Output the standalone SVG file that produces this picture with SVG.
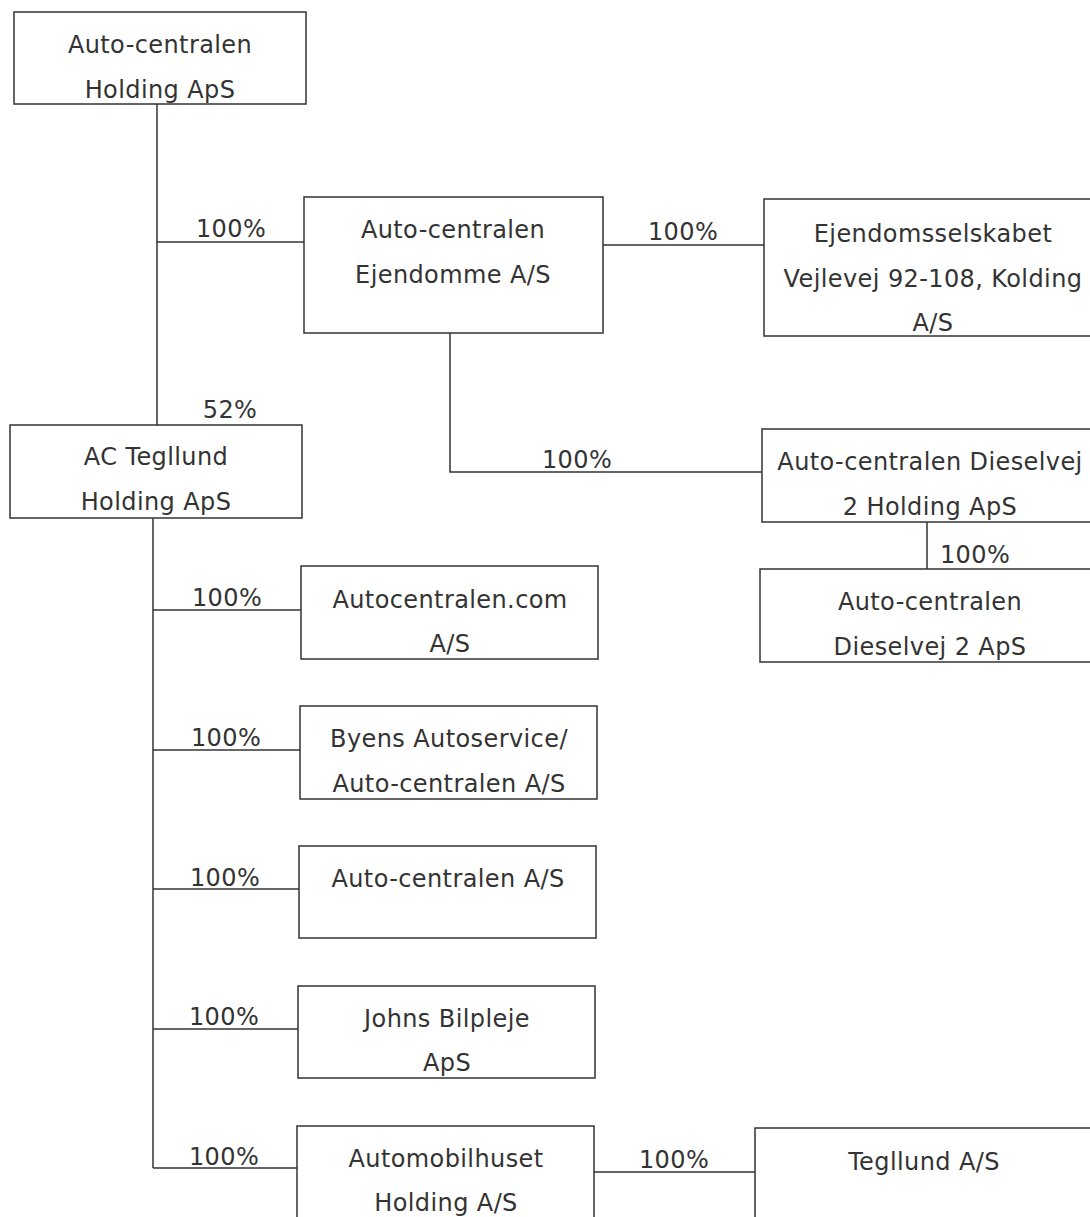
<svg xmlns="http://www.w3.org/2000/svg" width="1090" height="1217" viewBox="0 0 1090 1217">
<style>
.box{fill:#fff;stroke:#333;stroke-width:1.5}
.t{font-family:"DejaVu Sans",Verdana,sans-serif;font-size:24px;letter-spacing:0.4px;fill:#333;text-anchor:middle}
.c{fill:none;stroke:#333;stroke-width:1.5}
</style>
<rect width="1090" height="1217" fill="#fff"/>
<g id="connectors">
<path class="c" d="M157 104 V425"/>
<path class="c" d="M157 242 H304"/>
<path class="c" d="M603 245 H764"/>
<path class="c" d="M450 333 V472 H762"/>
<path class="c" d="M927 522 V569"/>
<path class="c" d="M153 518 V1168"/>
<path class="c" d="M153 610 H301"/>
<path class="c" d="M153 750 H300"/>
<path class="c" d="M153 889 H299"/>
<path class="c" d="M153 1029 H298"/>
<path class="c" d="M153 1168 H297"/>
<path class="c" d="M594 1172 H755"/>
<text class="t" x="231" y="237">100%</text>
<text class="t" x="683" y="240">100%</text>
<text class="t" x="577" y="468">100%</text>
<text class="t" x="230" y="418">52%</text>
<text class="t" x="975" y="563">100%</text>
<text class="t" x="227" y="606">100%</text>
<text class="t" x="226" y="746">100%</text>
<text class="t" x="225" y="886">100%</text>
<text class="t" x="224" y="1025">100%</text>
<text class="t" x="224" y="1165">100%</text>
<text class="t" x="674" y="1168">100%</text>
</g>
<g id="n-holding">
<rect class="box" x="14" y="12" width="292" height="92"/>
<text class="t" x="160" y="53">Auto-centralen</text>
<text class="t" x="160" y="98">Holding ApS</text>
</g>
<g id="n-ejendomme">
<rect class="box" x="304" y="197" width="299" height="136"/>
<text class="t" x="453" y="238">Auto-centralen</text>
<text class="t" x="453" y="283">Ejendomme A/S</text>
</g>
<g id="n-ejendomsselskabet">
<rect class="box" x="764" y="199" width="340" height="137"/>
<text class="t" x="933" y="242">Ejendomsselskabet</text>
<text class="t" x="933" y="287">Vejlevej 92-108, Kolding</text>
<text class="t" x="933" y="331">A/S</text>
</g>
<g id="n-dieselvej-holding">
<rect class="box" x="762" y="429" width="340" height="93"/>
<text class="t" x="930" y="470">Auto-centralen Dieselvej</text>
<text class="t" x="930" y="515">2 Holding ApS</text>
</g>
<g id="n-dieselvej">
<rect class="box" x="760" y="569" width="340" height="93"/>
<text class="t" x="930" y="610">Auto-centralen</text>
<text class="t" x="930" y="655">Dieselvej 2 ApS</text>
</g>
<g id="n-tegllund-holding">
<rect class="box" x="10" y="425" width="292" height="93"/>
<text class="t" x="156" y="465">AC Tegllund</text>
<text class="t" x="156" y="510">Holding ApS</text>
</g>
<g id="n-autocentralen-com">
<rect class="box" x="301" y="566" width="297" height="93"/>
<text class="t" x="450" y="608">Autocentralen.com</text>
<text class="t" x="450" y="652">A/S</text>
</g>
<g id="n-byens">
<rect class="box" x="300" y="706" width="297" height="93"/>
<text class="t" x="449" y="747">Byens Autoservice/</text>
<text class="t" x="449" y="792">Auto-centralen A/S</text>
</g>
<g id="n-autocentralen-as">
<rect class="box" x="299" y="846" width="297" height="92"/>
<text class="t" x="448" y="887">Auto-centralen A/S</text>
</g>
<g id="n-johns">
<rect class="box" x="298" y="986" width="297" height="92"/>
<text class="t" x="447" y="1027">Johns Bilpleje</text>
<text class="t" x="447" y="1071">ApS</text>
</g>
<g id="n-automobilhuset">
<rect class="box" x="297" y="1126" width="297" height="100"/>
<text class="t" x="446" y="1167">Automobilhuset</text>
<text class="t" x="446" y="1211">Holding A/S</text>
</g>
<g id="n-tegllund">
<rect class="box" x="755" y="1128" width="345" height="100"/>
<text class="t" x="924" y="1170">Tegllund A/S</text>
</g>
</svg>
